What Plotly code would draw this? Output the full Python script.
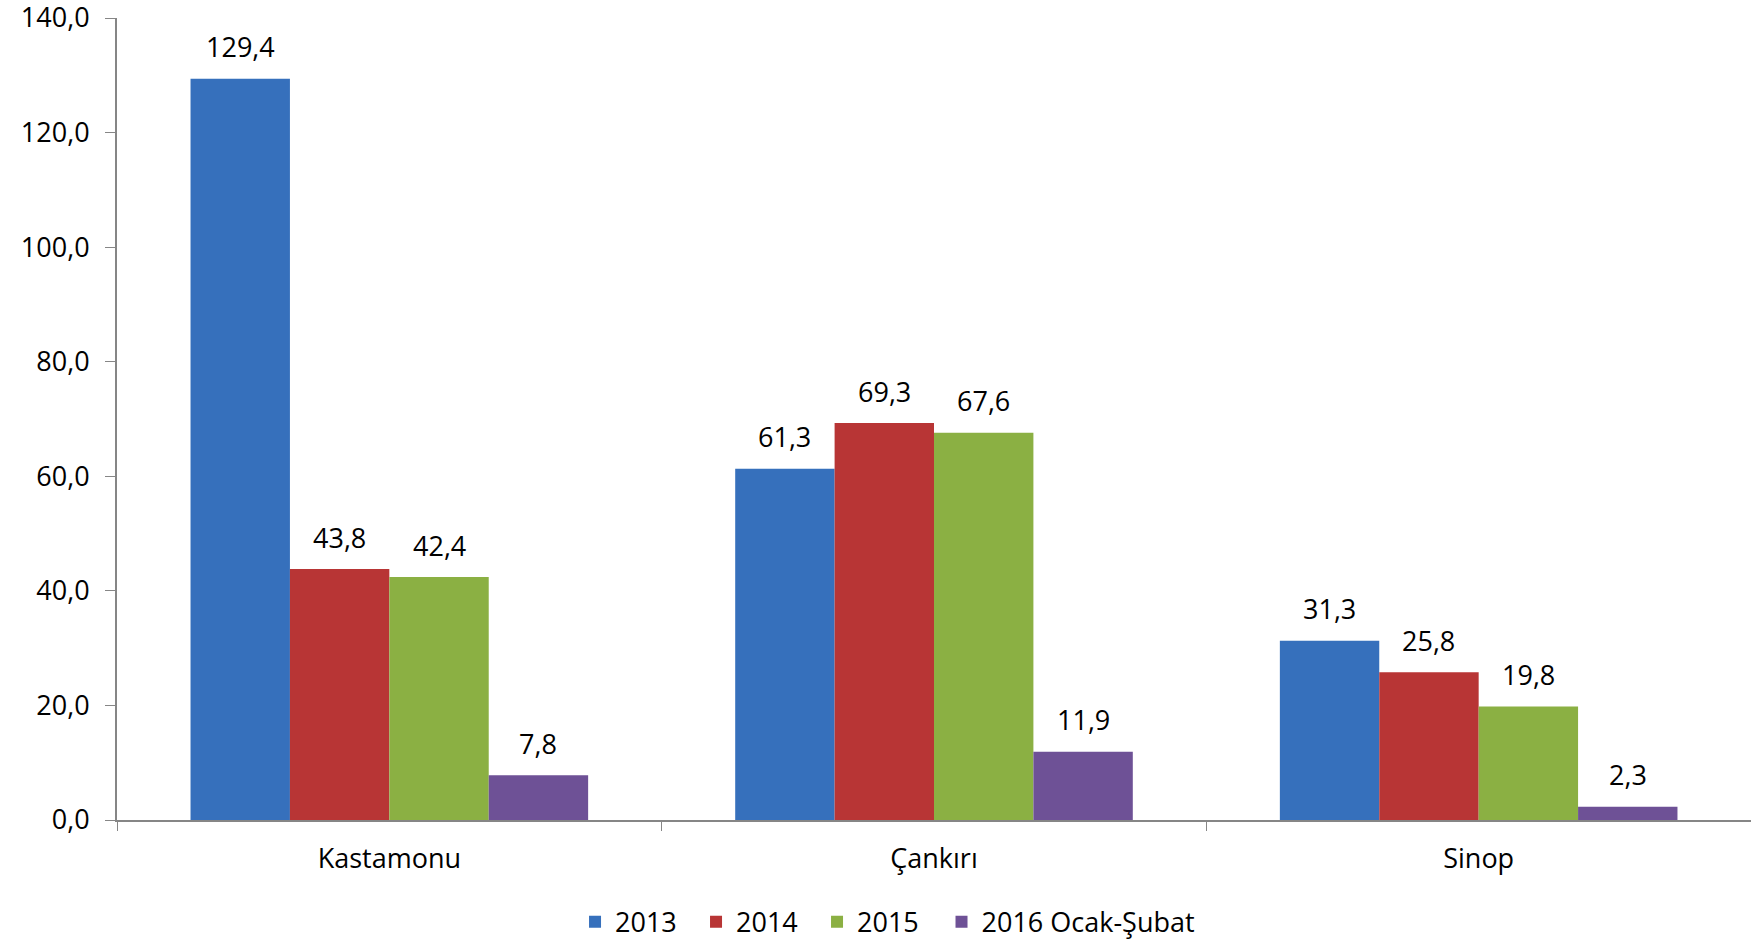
import plotly.graph_objects as go

categories = ["Kastamonu", "Çankırı", "Sinop"]
series_names = ["2013", "2014", "2015", "2016 Ocak-Şubat"]
v2013 = [129.4, 61.3, 31.3]
v2014 = [43.8, 69.3, 25.8]
v2015 = [42.4, 67.6, 19.8]
v2016 = [7.8, 11.9, 2.3]
values = [v2013, v2014, v2015, v2016]
colors = ["#3670BC", "#B83535", "#8BB043", "#6E5196"]
legend_ids = ["legend", "legend", "legend", "legend2"]
ytick_vals = [0, 20, 40, 60, 80, 100, 120, 140]

FONT = "'Open Sans', Lato, sans-serif"
FS = 27

W, H = 1751, 942
ML, MR, MT, MB = 117, 0, 18, 122
BARGAP = 0.27

cat_w = (W - ML - MR) / len(categories)
bar_w = cat_w * (1 - BARGAP) / len(series_names)

fig = go.Figure()
annotations = []
for i, (name, vals, col, lg) in enumerate(zip(series_names, values, colors, legend_ids)):
    fig.add_trace(go.Bar(
        x=categories, y=vals, name=name, legend=lg,
        marker=dict(color=col, line=dict(width=0)),
    ))
    off = (i - (len(series_names) - 1) / 2) * bar_w
    for c, v in zip(categories, vals):
        annotations.append(dict(
            x=c, y=v, xref="x", yref="y", text=f"{v:.1f}".replace(".", ","),
            showarrow=False, xshift=off, yshift=32, yanchor="middle",
            font=dict(size=FS, color="#000000", family=FONT),
        ))

legend_common = dict(orientation="h", xref="container", xanchor="left",
                     yref="container", y=0.021, yanchor="middle",
                     font=dict(size=FS, family=FONT), traceorder="normal",
                     itemwidth=30, bgcolor="rgba(0,0,0,0)")

fig.update_layout(
    width=W, height=H,
    paper_bgcolor="white", plot_bgcolor="white",
    separators=",.",
    barmode="group", bargap=BARGAP, bargroupgap=0,
    margin=dict(l=ML, r=MR, t=MT, b=MB, autoexpand=False),
    font=dict(family=FONT, size=FS, color="#000000"),
    annotations=annotations,
    showlegend=True,
    legend=dict(x=0.3284, entrywidth=76, entrywidthmode="pixels", **legend_common),
    legend2=dict(x=0.5377, **legend_common),
    xaxis=dict(showline=True, linecolor="#868686", linewidth=2,
               ticks="outside", tickson="boundaries", ticklen=9,
               tickcolor="#868686", tickwidth=1, automargin=False,
               ticklabelstandoff=14,
               tickfont=dict(size=FS, family=FONT), showgrid=False),
    yaxis=dict(range=[0, 140], tickvals=ytick_vals, tickformat=".1f",
               showline=True, linecolor="#868686", linewidth=2,
               ticks="outside", ticklen=10, tickcolor="#868686", tickwidth=1,
               showgrid=False, zeroline=False, automargin=False,
               ticklabelstandoff=10, ticklabeloverflow="allow",
               tickfont=dict(size=FS, family=FONT)),
)

fig.write_html("out.html", config={"displayModeBar": False},
               post_script="document.body.style.margin='0';document.body.style.padding='0';")
